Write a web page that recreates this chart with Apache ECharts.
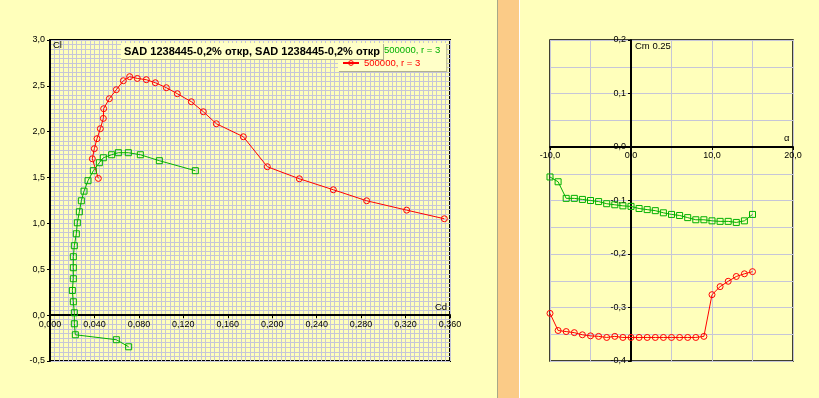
<!DOCTYPE html>
<html lang="ru">
<head>
<meta charset="UTF-8">
<title>Cl-Cd, Cm-alpha</title>
<style>
  body { margin: 0; background: #ffffbb; }
  #wrap { position: relative; width: 819px; height: 398px; overflow: hidden; background: #ffffbb; }
  .bar { position: absolute; top: 0; height: 398px; }
  #main { position: absolute; left: 0; top: 0; width: 819px; height: 398px; }
</style>
</head>
<body>
<div id="wrap">
  <div class="bar" style="left:497px;width:1px;background:#a8a888"></div>
  <div class="bar" style="left:498px;width:21px;background:#fbcb87"></div>
  <div class="bar" style="left:519px;width:1px;background:#ffffff"></div>
  <div id="main"></div>
</div>
<script src="https://cdn.jsdelivr.net/npm/echarts@6/dist/echarts.min.js"></script>
<script type="text/javascript">
// угол атаки, град
var alpha = [-10, -9, -8, -7, -6, -5, -4, -3, -2, -1, 0, 1, 2, 3, 4, 5, 6, 7, 8, 9, 10, 11, 12, 13, 14, 15];
// зелёная поляра
var cdGreen = [0.0708, 0.0597, 0.0228, 0.0219, 0.0219, 0.0210, 0.0201, 0.0210, 0.0210, 0.0210, 0.0219, 0.0237, 0.0246,
               0.0264, 0.0282, 0.0306, 0.0342, 0.0390, 0.0444, 0.0480, 0.0555, 0.0615, 0.0705, 0.0813, 0.0984, 0.1308];
var clGreen = [-0.345, -0.268, -0.214, -0.094, 0.026, 0.146, 0.269, 0.397, 0.517, 0.637, 0.757, 0.887, 1.007,
               1.127, 1.247, 1.352, 1.466, 1.575, 1.662, 1.716, 1.749, 1.771, 1.771, 1.749, 1.684, 1.575];
var cmGreen = [-0.056, -0.065, -0.096, -0.096, -0.098, -0.100, -0.102, -0.106, -0.108, -0.110, -0.111, -0.115, -0.117,
               -0.119, -0.123, -0.126, -0.128, -0.132, -0.136, -0.136, -0.138, -0.139, -0.139, -0.141, -0.138, -0.126];
// красная поляра
var cdRed = [0.0435, 0.0381, 0.0399, 0.0423, 0.0453, 0.0480, 0.0483, 0.0534, 0.0597, 0.0660, 0.0717, 0.0786, 0.0867,
             0.0948, 0.1047, 0.1146, 0.1272, 0.1380, 0.1497, 0.1740, 0.1956, 0.2244, 0.2550, 0.2850, 0.3210, 0.3549];
var clRed = [1.491, 1.705, 1.815, 1.924, 2.033, 2.145, 2.251, 2.360, 2.458, 2.556, 2.600, 2.581, 2.567,
             2.534, 2.480, 2.414, 2.327, 2.218, 2.087, 1.945, 1.618, 1.487, 1.367, 1.247, 1.145, 1.051];
var cmRed = [-0.311, -0.343, -0.345, -0.347, -0.351, -0.353, -0.354, -0.356, -0.354, -0.356, -0.356, -0.356, -0.356,
             -0.356, -0.356, -0.356, -0.356, -0.356, -0.356, -0.354, -0.276, -0.261, -0.251, -0.242, -0.237, -0.233];

var titleText = 'SAD 1238445-0,2% откр, SAD 1238445-0,2% откр';
var nameGreen = '500000, r = 3 ';
var nameRed = '500000, r = 3';

var GREEN = '#00b000', RED = '#ff0000', GRIDC = '#c6c6d8';
var FONT = 'Liberation Sans';

// размеры областей построения
var G1 = { left: 50, top: 40, width: 400, height: 321 };
var G2 = { left: 550, top: 40, width: 243, height: 321 };

function pairs(xs, ys) {
    var out = [];
    for (var i = 0; i < xs.length; i++) out.push([xs[i], ys[i]]);
    return out;
}
function fmt(n) {
    return function (v) { return Number(v).toFixed(n).replace('.', ','); };
}
// сдвиг оси к нулю другой оси (offset считается от края сетки)
function zeroShift(min, max, size) {
    return -(0 - min) / (max - min) * size;
}
function valAxis(idx, min, max, step, minorN, digits, margin, offset) {
    return {
        type: 'value', gridIndex: idx, min: min, max: max, interval: step, offset: offset,
        axisLine: { onZero: false, lineStyle: { color: '#000', width: 2 } },
        axisTick: { show: true, length: 3, lineStyle: { color: '#000' } },
        axisLabel: { formatter: fmt(digits), color: '#000', fontFamily: FONT, fontSize: 9, margin: margin },
        splitLine: { show: true, lineStyle: { color: GRIDC, width: 1 } },
        minorTick: { show: false, splitNumber: minorN },
        minorSplitLine: { show: true, lineStyle: { color: GRIDC, width: 1 } }
    };
}
function lineSeries(name, xi, data, color, symbol) {
    return {
        name: name, type: 'line', xAxisIndex: xi, yAxisIndex: xi, data: data,
        symbol: symbol, symbolSize: 6, showAllSymbol: true,
        lineStyle: { color: color, width: 1 },
        itemStyle: { color: 'rgba(0,0,0,0)', borderColor: color, borderWidth: 1 },
        emphasis: { disabled: true }
    };
}

var myChart = echarts.init(document.getElementById('main'));
var option = {
    animation: false,
    backgroundColor: 'transparent',
    title: {
        text: titleText, left: 121, top: 43, padding: [3, 3, 2, 3], z: 8,
        backgroundColor: '#ffffc8',
        shadowColor: '#b0b090', shadowOffsetX: 1, shadowOffsetY: 1,
        textStyle: { fontFamily: FONT, fontSize: 11, fontWeight: 'bold', color: '#000' }
    },
    legend: [
        {
            data: [{ name: nameRed, textStyle: { color: RED },
                     itemStyle: { color: 'rgba(0,0,0,0)', borderColor: RED, borderWidth: 1 } }],
            left: 338, top: 43, padding: [15, 26, 3, 4], z: 4,
            backgroundColor: '#ffffc8',
            shadowColor: '#b0b090', shadowOffsetX: 1, shadowOffsetY: 1,
            itemWidth: 16, itemHeight: 6, itemGap: 4,
            textStyle: { fontFamily: FONT, fontSize: 9.5 }
        },
        {
            data: [{ name: nameGreen, textStyle: { color: GREEN } }],
            left: 362, top: 45, padding: 0, z: 5,
            itemWidth: 16, itemHeight: 6,
            textStyle: { fontFamily: FONT, fontSize: 9.5 }
        }
    ],
    grid: [
        { left: G1.left, top: G1.top, width: G1.width, height: G1.height, show: true,
          borderColor: '#000', borderWidth: 2, backgroundColor: 'transparent' },
        { left: G2.left, top: G2.top, width: G2.width, height: G2.height, show: true,
          borderColor: '#000', borderWidth: 1.5, backgroundColor: 'transparent' }
    ],
    xAxis: [
        valAxis(0, 0, 0.36, 0.04, 10, 3, 5, zeroShift(-0.5, 3.0, G1.height)),
        valAxis(1, -10, 20, 10, 2, 1, 4, zeroShift(-0.4, 0.2, G2.height))
    ],
    yAxis: [
        valAxis(0, -0.5, 3.0, 0.5, 10, 1, 5, zeroShift(0, 0.36, G1.width)),
        valAxis(1, -0.4, 0.2, 0.1, 2, 1, 5, zeroShift(-10, 20, G2.width))
    ],
    graphic: [
        { type: 'text', left: 53, top: 40, z: 10, style: { text: 'Cl', fontFamily: FONT, fontSize: 9.5, fill: '#000' } },
        { type: 'text', left: 435, top: 302, z: 10, style: { text: 'Cd', fontFamily: FONT, fontSize: 9.5, fill: '#000' } },
        { type: 'text', left: 635, top: 41, z: 10, style: { text: 'Cm 0.25', fontFamily: FONT, fontSize: 9.5, fill: '#000' } },
        { type: 'text', left: 784, top: 133, z: 10, style: { text: 'α', fontFamily: FONT, fontSize: 9.5, fill: '#000' } }
    ],
    series: [
        lineSeries(nameGreen, 0, pairs(cdGreen, clGreen), GREEN, 'rect'),
        lineSeries(nameRed, 0, pairs(cdRed, clRed), RED, 'circle'),
        lineSeries(nameGreen, 1, pairs(alpha, cmGreen), GREEN, 'rect'),
        lineSeries(nameRed, 1, pairs(alpha, cmRed), RED, 'circle')
    ]
};
myChart.setOption(option);
</script>
</body>
</html>
